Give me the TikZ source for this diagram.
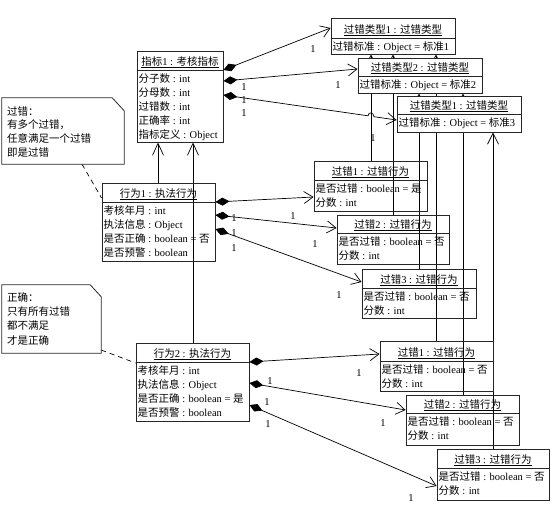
\documentclass[tikz,border=0pt]{standalone}
\usepackage{fontspec}
\setmainfont{Liberation Serif}
\newfontfamily\cjkfont{Noto Sans CJK SC}
\newcommand\zh[1]{{\cjkfont #1}}
\usetikzlibrary{arrows.meta,fit}
\pgfdeclarelayer{bg}
\pgfsetlayers{bg,main}
\tikzset{
  objbox/.style={draw=black!85, line width=0.9pt, inner sep=0pt},
  objboxw/.style={objbox, fill=white},
  hdr/.style={anchor=base, inner sep=0pt, font=\fontsize{10.5}{14}\selectfont},
  attr/.style={anchor=north west, inner sep=0pt, align=left, font=\fontsize{10.5}{14}\selectfont},
  conn/.style={line width=0.7pt},
  comp/.style={conn, {Diamond[length=14pt,width=8pt]}-{Straight Barb[length=9pt,width=12pt]}},
  nav/.style={conn, -{Straight Barb[length=11pt,width=11pt]}},
  gen/.style={conn, -{Straight Barb[length=12pt,width=11pt]}},
  notebox/.style={draw=black!85, line width=0.8pt},
  notelink/.style={conn, dash pattern=on 5pt off 4pt},
  mult/.style={inner sep=0pt, font=\fontsize{10.5}{12}\selectfont},
  notetext/.style={anchor=north west, inner sep=0pt, align=left},
}
% #1 name, #2 x1, #3 y1, #4 x2, #5 y2, #6 y of header line, #7 header, #8 attributes, #9 style
\newcommand\umlobj[9]{%
  \node[#9, fit={(#2,#3) (#4,#5)}] (#1) {};
  \draw[objbox] (#1.west |- 0,#6) -- (#1.east |- 0,#6);
  \node[hdr] (#1h) at ({(#2+#4)/2},{#6-5}) {\underline{#7}};
  \node[attr] (#1a) at ({#2+1.5},{#6+2}) {\rule{0pt}{10pt}#8};
}
\begin{document}
\begin{tikzpicture}[x=1pt,y=-1pt]
\useasboundingbox (0,0) rectangle (553,514);

% indicator object
\umlobj{A}{137}{51}{223}{142}{70}{\zh{指标}1 : \zh{考核指标}}
  {\zh{分子数} : int\\\zh{分母数} : int\\\zh{过错数} : int\\\zh{正确率} : int\\\zh{指标定义} : Object}{objbox}

% behaviour objects
\umlobj{B1}{102}{183}{215}{261}{202}{\zh{行为}1 : \zh{执法行为}}
  {\zh{考核年月} : int\\\zh{执法信息} : Object\\\zh{是否正确} : boolean = \zh{否}\\\zh{是否预警} : boolean}{objbox}
\umlobj{B2}{136}{343}{249}{421}{362}{\zh{行为}2 : \zh{执法行为}}
  {\zh{考核年月} : int\\\zh{执法信息} : Object\\\zh{是否正确} : boolean = \zh{是}\\\zh{是否预警} : boolean}{objbox}

% fault objects
\umlobj{E1}{314}{161}{427}{211}{180}{\zh{过错}1 : \zh{过错行为}}
  {\zh{是否过错} : boolean = \zh{是}\\\zh{分数} : int}{objbox}
\umlobj{E2}{337}{215}{449}{264}{233}{\zh{过错}2 : \zh{过错行为}}
  {\zh{是否过错} : boolean = \zh{否}\\\zh{分数} : int}{objbox}
\umlobj{E3}{362}{269}{476}{318}{288}{\zh{过错}3 : \zh{过错行为}}
  {\zh{是否过错} : boolean = \zh{否}\\\zh{分数} : int}{objbox}
\umlobj{F1}{380}{341}{493}{391}{361}{\zh{过错}1 : \zh{过错行为}}
  {\zh{是否过错} : boolean = \zh{否}\\\zh{分数} : int}{objbox}
\umlobj{F2}{406}{395}{519}{445}{413}{\zh{过错}2 : \zh{过错行为}}
  {\zh{是否过错} : boolean = \zh{否}\\\zh{分数} : int}{objbox}
\umlobj{F3}{437}{449}{549}{500}{468}{\zh{过错}3 : \zh{过错行为}}
  {\zh{是否过错} : boolean = \zh{否}\\\zh{分数} : int}{objbox}

% fault type objects (opaque)
\umlobj{T1}{331}{18}{455}{54}{38}{\zh{过错类型}1 : \zh{过错类型}}
  {\zh{过错标准} : Object = \zh{标准}1}{objboxw}
\umlobj{T2}{358}{58}{482}{93}{76}{\zh{过错类型}2 : \zh{过错类型}}
  {\zh{过错标准} : Object = \zh{标准}2}{objboxw}
\umlobj{T3}{397}{96}{521}{132}{114}{\zh{过错类型}1 : \zh{过错类型}}
  {\zh{过错标准} : Object = \zh{标准}3}{objboxw}

% notes
\node[fit={(2,98) (124,164)}, inner sep=0pt] (n1) {};
\draw[notebox] (n1.north west) -- ([xshift=-12pt]n1.north east) -- ([yshift=-13pt]n1.north east) -- (n1.south east) -- (n1.south west) -- cycle;
\node[notetext, font=\fontsize{10.5}{13.7}\selectfont] (n1t) at (7,105)
  {\rule{0pt}{10pt}\zh{过错：}\\\zh{有多个过错，}\\\zh{任意满足一个过错}\\\zh{即是过错}};

\node[fit={(2,285) (101,353)}, inner sep=0pt] (n2) {};
\draw[notebox] (n2.north west) -- ([xshift=-11pt]n2.north east) -- ([yshift=-12pt]n2.north east) -- (n2.south east) -- (n2.south west) -- cycle;
\node[notetext, font=\fontsize{10.5}{14.3}\selectfont] (n2t) at (7,291)
  {\rule{0pt}{10pt}\zh{正确：}\\\zh{只有所有过错}\\\zh{都不满足}\\\zh{才是正确}};

% multiplicities
\node[mult] (m1) at (313,49) {1};
\node[mult] (m2) at (338,85) {1};
\node[mult] (m3) at (244,87) {1};
\node[mult] (m4) at (244,100) {1};
\node[mult] (m5) at (244,113) {1};
\node[mult] (m6) at (373,138) {1};
\node[mult] (m7) at (234,218) {1};
\node[mult] (m8) at (234,233) {1};
\node[mult] (m9) at (234,248) {1};
\node[mult] (m10) at (293,216) {1};
\node[mult] (m11) at (315,244) {1};
\node[mult] (m12) at (339,295) {1};
\node[mult] (m13) at (270,381) {1};
\node[mult] (m14) at (267,402) {1};
\node[mult] (m15) at (268,424) {1};
\node[mult] (m16) at (359,373) {1};
\node[mult] (m17) at (383,423) {1};
\node[mult] (m18) at (411,498) {1};

\begin{pgfonlayer}{bg}
% compositions from the indicator
\draw[comp] (A.east |- 0,70) -- (T1.west |- 0,28);
\draw[comp] (A.east |- 0,81) -- (T2.west |- 0,69);
\coordinate (hopa) at (368,115.8);
\coordinate (hopb) at (374,116.7);
\draw[comp] (A.east |- 0,95) -- (hopa) .. controls (368.6,111.3) and (373.6,112.2) .. (hopb) -- (T3.west |- 0,120);
% compositions from behaviour 1
\draw[comp] (B1.east |- 0,202) -- (E1.west |- 0,197);
\draw[comp] (B1.east |- 0,215) -- (E2.west |- 0,228);
\draw[comp] (B1.east |- 0,229) -- (E3.west |- 0,282);
% compositions from behaviour 2
\draw[comp] (B2.east |- 0,362) -- (F1.west |- 0,354);
\draw[comp] (B2.east |- 0,383) -- (F2.west |- 0,410);
\draw[comp] (B2.east |- 0,405) -- (F3.west |- 0,486);
% behaviours to indicator
\draw[gen] (B1.north -| 158,0) -- (A.south -| 158,0);
\draw[gen] (B2.north -| 193,0) -- (A.south -| 193,0);
% faults to fault types
\draw[nav] (E1.north -| 371,0) -- (T1.south -| 371,0);
\draw[nav] (E2.north -| 393,0) -- (T1.south -| 393,0);
\draw[nav] (E3.north -| 419,0) -- (T2.south -| 419,0);
\draw[nav] (F1.north -| 436,0) -- (T1.south -| 436,0);
\draw[nav] (F2.north -| 463,0) -- (T2.south -| 463,0);
\draw[nav] (F3.north -| 493,0) -- (T3.south -| 493,0);
% note links
\draw[notelink] (n1.south -| 82,0) -- (B1.west |- 0,198);
\draw[notelink] (n2.east |- 0,350) -- (B2.west |- 0,363);
\end{pgfonlayer}
\end{tikzpicture}
\end{document}
